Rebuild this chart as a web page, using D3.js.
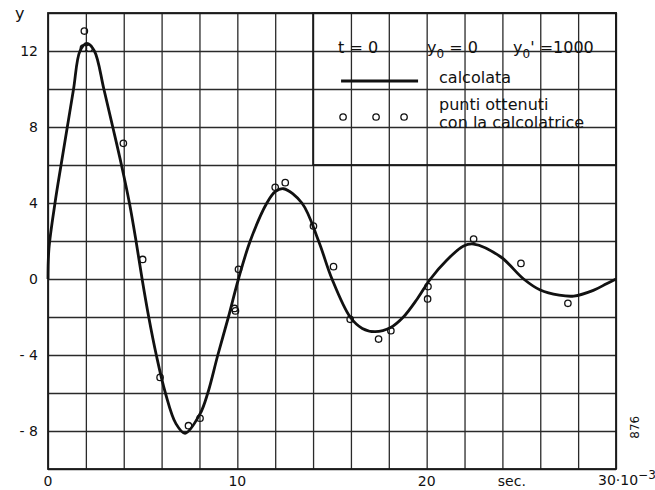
<meta charset="utf-8">
<style type="text/css">
    body { margin: 0; background: #fff; }
    svg { font-family: "DejaVu Sans", sans-serif; }
    .grid line { stroke: #2a2a2a; stroke-width: 1.3; }
    .grid path { display: none; }
    .frame { fill: none; stroke: #1a1a1a; stroke-width: 1.8; }
    .line { fill: none; stroke: #111; stroke-width: 2.8; }
    .dot { fill: none; stroke: #111; stroke-width: 1.3; }
    .lab { font-size: 14px; fill: #111; }
    .leg { font-size: 16px; fill: #111; }
</style>
<body>
<script src="https://d3js.org/d3.v7.min.js"></script>
<script>

// curve ("calcolata")
var curveX = [0, 0.05, 0.37, 0.69, 1.02, 1.35, 1.69, 2.05, 2.45, 2.95, 3.42, 3.88, 4.3, 4.65, 4.97, 5.32, 5.72, 6.2, 6.75, 7.24, 8.03, 8.44, 8.97, 9.53, 10.06, 10.68, 11.56, 12.0, 12.44, 13.41, 14.29, 15.0, 15.96, 16.6, 17.28, 18.1, 18.77, 19.5, 20.2, 21.07, 21.95, 22.48, 23.9, 25.12, 26.0, 27.0, 27.77, 28.8, 29.5, 30];
var curveY = [0, 1.6, 4, 6, 8, 10, 12, 12.4, 12, 10, 8, 6, 4, 2, 0, -2, -4, -6, -7.6, -8.12, -7.1, -6, -4, -2, 0, 2, 4, 4.6, 4.75, 4, 2, 0, -2, -2.6, -2.77, -2.55, -2, -1.05, 0, 1.0, 1.74, 1.84, 1.17, 0, -0.58, -0.85, -0.9, -0.6, -0.25, 0];

// "punti ottenuti con la calcolatrice"
var pointX = [1.92, 1.87, 2.18, 3.98, 5.0, 5.92, 7.42, 8.03, 9.85, 9.9, 10.06, 12.0, 12.53, 14.02, 15.08, 15.96, 17.46, 18.11, 20.07, 20.05, 22.48, 24.98, 27.46];
var pointY = [13.05, 12.15, 12.15, 7.14, 1.03, -5.18, -7.72, -7.33, -1.55, -1.68, 0.51, 4.83, 5.07, 2.79, 0.65, -2.12, -3.16, -2.72, -0.4, -1.05, 2.1, 0.82, -1.28];

var yTicks = [12, 8, 4, 0, -4, -8];
var xTicks = [0, 10, 20];
var xGrid = d3.range(0, 31, 2);
var yGrid = d3.range(-10, 15, 2);

var margin = {top: 13, left: 48},
    width = 568,
    height = 456;

var x = d3.scaleLinear().domain([0, 30]).range([0, width]);
var y = d3.scaleLinear().domain([-10, 14]).range([height, 0]);

var svg = d3.select("body").append("svg")
    .attr("width", 655)
    .attr("height", 490)
  .append("g")
    .attr("transform", "translate(" + margin.left + "," + margin.top + ")");

// grid
svg.append("g")
    .attr("class", "grid")
    .attr("transform", "translate(0," + height + ")")
    .call(d3.axisBottom(x).tickValues(xGrid).tickSize(-height).tickFormat(""));
svg.append("g")
    .attr("class", "grid")
    .call(d3.axisLeft(y).tickValues(yGrid).tickSize(-width).tickFormat(""));

// legend box hides the grid behind it
svg.append("rect")
    .attr("x", x(14)).attr("y", y(14))
    .attr("width", x(30) - x(14)).attr("height", y(6) - y(14))
    .attr("fill", "#fff")
    .attr("class", "frame");

svg.append("rect")
    .attr("class", "frame")
    .attr("width", width).attr("height", height);

// tick labels
svg.selectAll(".ylab")
    .data(yTicks)
  .enter().append("text")
    .attr("class", "lab")
    .attr("x", -10)
    .attr("y", function(d) { return y(d); })
    .attr("dy", "0.36em")
    .attr("text-anchor", "end")
    .text(function(d) { return d < 0 ? "- " + (-d) : d; });

svg.selectAll(".xlab")
    .data(xTicks)
  .enter().append("text")
    .attr("class", "lab")
    .attr("x", function(d) { return x(d); })
    .attr("y", height + 17)
    .attr("text-anchor", "middle")
    .text(function(d) { return d; });

var t30 = svg.append("text")
    .attr("class", "lab")
    .attr("x", x(30) - 18)
    .attr("y", height + 16);
t30.append("tspan").text("30·10");
t30.append("tspan").attr("dy", -6).style("font-size", "12px").text("−3");

svg.append("text")
    .attr("class", "lab")
    .attr("x", x(24.5))
    .attr("y", height + 17)
    .attr("text-anchor", "middle")
    .text("sec.");

svg.append("text")
    .attr("class", "lab")
    .style("font-size", "16px")
    .attr("x", -33)
    .attr("y", 6)
    .text("y");

svg.append("text")
    .attr("class", "lab")
    .style("font-size", "12px")
    .attr("transform", "translate(" + (x(30) + 23) + "," + y(-7.8) + ") rotate(-90)")
    .attr("text-anchor", "middle")
    .text("876");

// curve
var valueline = d3.line()
    .x(function(d) { return x(d[0]); })
    .y(function(d) { return y(d[1]); })
    .curve(d3.curveCatmullRom.alpha(0.5));

svg.append("path")
    .datum(d3.zip(curveX, curveY))
    .attr("class", "line")
    .attr("d", valueline);

svg.selectAll(".dot")
    .data(d3.zip(pointX, pointY))
  .enter().append("circle")
    .attr("class", "dot")
    .attr("cx", function(d) { return x(d[0]); })
    .attr("cy", function(d) { return y(d[1]); })
    .attr("r", 3.2);

// legend
var lx = x(14);
var head = svg.append("text").attr("class", "leg").attr("y", 40);
head.append("tspan").attr("x", lx + 25).text("t = 0");
head.append("tspan").attr("x", lx + 114).text("y");
head.append("tspan").attr("dy", 5).style("font-size", "12px").text("0");
head.append("tspan").attr("dy", -5).text(" = 0");
head.append("tspan").attr("x", lx + 200).text("y");
head.append("tspan").attr("dy", 5).style("font-size", "12px").text("0");
head.append("tspan").attr("dy", -5).text("' =1000");

svg.append("line")
    .attr("class", "line")
    .attr("x1", lx + 28).attr("x2", lx + 105)
    .attr("y1", 68).attr("y2", 68);

svg.append("text").attr("class", "leg")
    .attr("x", lx + 126).attr("y", 70).text("calcolata");
svg.append("text").attr("class", "leg")
    .attr("x", lx + 126).attr("y", 97).text("punti  ottenuti");
svg.append("text").attr("class", "leg")
    .attr("x", lx + 126).attr("y", 115).text("con la calcolatrice");

svg.selectAll(".ldot")
    .data([30, 63, 91])
  .enter().append("circle")
    .attr("class", "dot")
    .attr("cx", function(d) { return lx + d; })
    .attr("cy", 104)
    .attr("r", 3.2);

</script>
</body>
